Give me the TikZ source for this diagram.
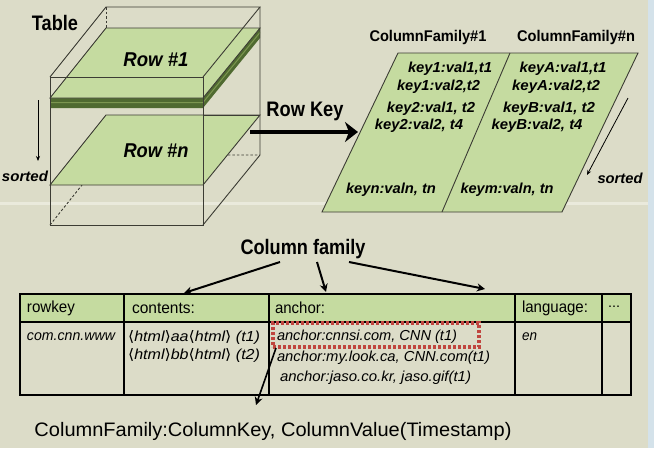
\documentclass[tikz,border=0pt]{standalone}
\usepackage{fontspec}
\usepackage{graphicx}
\setmainfont{Liberation Sans}
\newfontfamily\djv{DejaVu Sans}
\usetikzlibrary{arrows.meta}
\definecolor{bg}{HTML}{DCDCC8}
\definecolor{bgline}{HTML}{EAEADC}
\definecolor{leaf}{HTML}{C5DBA0}
\definecolor{slab}{HTML}{4F6A30}
\definecolor{slabmid}{HTML}{7C9650}
\definecolor{edge}{HTML}{3C3C34}
\definecolor{dotred}{HTML}{C0463F}
\definecolor{sidestrip}{HTML}{D4E2EA}
\newcommand{\fitw}[2]{\resizebox{#1}{\height}{#2}}
\newcommand{\ab}[1]{{\djv\upshape #1}}
\tikzset{
  txt/.style={inner sep=0pt, outer sep=0pt, text=black},
  cubeedge/.style={draw=edge, line width=0.9pt},
  hidden/.style={draw=edge, line width=0.9pt, dash pattern=on 2.5pt off 2pt},
  plane/.style={fill=leaf, draw=edge, line width=0.9pt},
  bigarrow/.style={line width=4pt, -{Stealth[length=13pt,width=20pt,inset=4pt]}},
  cfarrow/.style={line width=2pt, -{Stealth[length=8pt,width=8pt]}},
  thinarrow/.style={line width=0.8pt, -{Stealth[length=5pt,width=4pt]}},
  tabline/.style={draw=black, line width=1.2pt},
  redbox/.style={draw=dotred, line width=3.4pt, dash pattern=on 3pt off 2pt}
}
\begin{document}
\begin{tikzpicture}[x=1pt,y=-1pt]
% background
\fill[bg] (0,0) rectangle (654,448);
\useasboundingbox (0,0) rectangle (654,448);
\fill[bgline] (0,201.5) rectangle (648,204.5);
\fill[sidestrip] (648,0) rectangle (654,448);

% ---------- 3D table cube ----------
\draw[hidden] (106,7) -- (106,28);
\draw[hidden] (50,225) -- (106,155) -- (260,155);
% Row #n plane
\draw[plane] (50,185) -- (203,185) -- (260,115) -- (106,115) -- cycle;
% Row #1 slab
\fill[slab] (50,98) -- (203,98) -- (260,28) -- (260,38) -- (203,108) -- (50,108) -- cycle;
\draw[slabmid, line width=1pt] (50,102.5) -- (203,102.5) -- (260,32.5);
\draw[plane] (50,98) -- (203,98) -- (260,28) -- (106,28) -- cycle;
% cube visible edges
\draw[cubeedge] (50,77) rectangle (203,225);
\draw[cubeedge] (50,77) -- (106,7) -- (260,7) -- (203,77);
\draw[cubeedge] (260,7) -- (260,155) -- (203,225);
\draw[cubeedge] (203,115) -- (260,115);

\node[txt, font=\bfseries\fontsize{21}{21}\selectfont] (table) at (55,23) {\fitw{46pt}{Table}};
\node[txt, font=\bfseries\itshape\fontsize{20}{20}\selectfont] (row1) at (156,60) {\fitw{65pt}{Row \#1}};
\node[txt, font=\bfseries\itshape\fontsize{20}{20}\selectfont] (rown) at (156,151) {\fitw{65pt}{Row \#n}};
\node[txt, font=\bfseries\itshape\fontsize{14.5}{14.5}\selectfont] (sortL) at (25,176) {\fitw{46pt}{sorted}};
\coordinate (sLa) at (38,100);
\coordinate (sLb) at (38,161);
\draw[thinarrow] (sLa) -- (sLb);

% ---------- Row Key arrow ----------
\node[txt, font=\bfseries\fontsize{21}{21}\selectfont] (rowkey) at (305,111) {\fitw{77pt}{Row Key}};
\coordinate (rkA) at (250,132);
\coordinate (rkB) at (358,132);
\draw[bigarrow] (rkA) -- (rkB);

% ---------- column family parallelogram ----------
\draw[plane] (398,53) -- (638,53) -- (562,212) -- (322,212) -- cycle;
\draw[draw=edge, line width=0.9pt] (510,53) -- (442,212);
\node[txt, font=\bfseries\fontsize{15.5}{15.5}\selectfont] (cf1) at (428,37) {\fitw{117pt}{ColumnFamily\#1}};
\node[txt, font=\bfseries\fontsize{15.5}{15.5}\selectfont] (cfn) at (576,37) {\fitw{118pt}{ColumnFamily\#n}};
\tikzset{kv/.style={txt, font=\bfseries\itshape\fontsize{14.5}{14.5}\selectfont}}
\node[kv] (k11) at (450,69) {\fitw{84pt}{key1:val1,t1}};
\node[kv] (k12) at (438.5,87) {\fitw{83pt}{key1:val2,t2}};
\node[kv] (k21) at (431,109) {\fitw{88pt}{key2:val1, t2}};
\node[kv] (k22) at (419,126) {\fitw{88pt}{key2:val2, t4}};
\node[kv] (kn) at (391,190) {\fitw{90pt}{keyn:valn, tn}};
\node[kv] (kA1) at (563,69) {\fitw{87pt}{keyA:val1,t1}};
\node[kv] (kA2) at (556,87) {\fitw{88pt}{keyA:val2,t2}};
\node[kv] (kB1) at (549,109) {\fitw{92pt}{keyB:val1, t2}};
\node[kv] (kB2) at (537,126) {\fitw{91pt}{keyB:val2, t4}};
\node[kv] (km) at (507,190) {\fitw{93pt}{keym:valn, tn}};
\node[txt, font=\bfseries\itshape\fontsize{14.5}{14.5}\selectfont] (sortR) at (620,178) {\fitw{45pt}{sorted}};
\coordinate (sRa) at (628,98);
\coordinate (sRb) at (587,175);
\draw[thinarrow] (sRa) -- (sRb);

% ---------- Column family table ----------
\node[txt, font=\bfseries\fontsize{21}{21}\selectfont] (colfam) at (303,249) {\fitw{125pt}{Column family}};
\fill[leaf] (20,294) rectangle (631,322);
\draw[tabline] (20,294) rectangle (631,395);
\draw[tabline] (20,322) -- (631,322);
\foreach \xx in {124,269,515,602} \draw[draw=black, line width=1.1pt] (\xx,294) -- (\xx,395);

\tikzset{hd/.style={txt, anchor=west, font=\fontsize{16}{16}\selectfont},
         dt/.style={txt, anchor=west, font=\itshape\fontsize{14.5}{14.5}\selectfont}}
\node[hd] (hrow) at (27,308) {\fitw{48pt}{rowkey}};
\node[hd] (hcont) at (132,308) {\fitw{63pt}{contents:}};
\node[hd] (hanch) at (275,308) {\fitw{50pt}{anchor:}};
\node[hd] (hlang) at (522,308) {\fitw{66pt}{language:}};
\node[txt, font=\fontsize{14}{14}\selectfont] (hdots) at (614,307) {\fitw{12pt}{...}};
\node[dt] (drow) at (27,337) {\fitw{88pt}{com.cnn.www}};
\node[dt] (dc1) at (128,337) {\fitw{132pt}{\ab{⟨}html\ab{⟩}aa\ab{⟨}html\ab{⟩} (t1)}};
\node[dt] (dc2) at (128,355) {\fitw{132pt}{\ab{⟨}html\ab{⟩}bb\ab{⟨}html\ab{⟩} (t2)}};
\node[dt] (da1) at (277,337) {\fitw{180pt}{anchor:cnnsi.com, CNN (t1)}};
\node[dt] (da2) at (277,358) {\fitw{213pt}{anchor:my.look.ca, CNN.com(t1)}};
\node[dt] (da3) at (280,378) {\fitw{191pt}{anchor:jaso.co.kr, jaso.gif(t1)}};
\node[dt] (den) at (522,337) {\fitw{15pt}{en}};

\node[redbox, inner sep=0pt, minimum width=206pt, minimum height=24pt] (rb) at (376,335) {};

\coordinate (cfL) at (280,262);
\coordinate (cfM) at (317,262);
\coordinate (cfR) at (349,262);
\coordinate (tL) at (184,293);
\coordinate (tM) at (326,292);
\coordinate (tR) at (485,289);
\draw[cfarrow] (cfL) -- (tL);
\draw[cfarrow] (cfM) -- (tM);
\draw[cfarrow] (cfR) -- (tR);

\node[txt, font=\fontsize{19.5}{19.5}\selectfont] (bottom) at (273,431) {\fitw{477pt}{ColumnFamily:ColumnKey, ColumnValue(Timestamp)}};
\coordinate (rbS) at (276,348);
\coordinate (ctop) at (256,405);
\draw[cfarrow, line width=1.6pt] (rbS) -- (ctop);
\end{tikzpicture}
\end{document}
